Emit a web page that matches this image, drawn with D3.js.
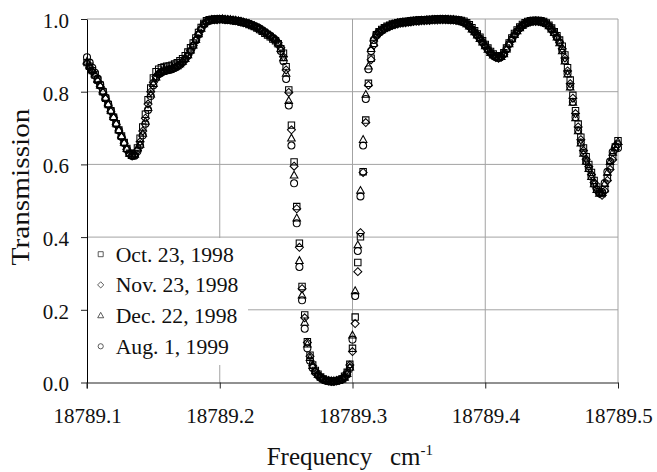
<!DOCTYPE html>
<html>
<head>
<meta charset="utf-8">
<script src="https://cdn.jsdelivr.net/npm/d3@7"></script>
<style>
  html, body { margin: 0; padding: 0; background: #fff; }
  svg { display: block; }
  svg text { font-family: "Liberation Serif", "Times New Roman", serif !important; fill: #111; }
</style>
</head>
<body>
<svg id="chart" width="657" height="472"></svg>
<script>
// Scan grid: every scan starts at the same frequency and uses the same step (cm^-1)
const sampleStart = 18789.1;
const sampleStep = 0.002;

const xTicks = [18789.1, 18789.2, 18789.3, 18789.4, 18789.5];
const yTicks = [0.0, 0.2, 0.4, 0.6, 0.8, 1.0];

const seriesNames = ["Oct. 23, 1998", "Nov. 23, 1998", "Dec. 22, 1998", "Aug. 1, 1999"];
const seriesShapes = ["square", "diamond", "triangle", "circle"];

// Transmission per scan, one value per grid point (201 points)
const oct23_1998 = [
  .880,.870,.858,.846,.832,.818,.800,.782,.765,.748,
  .730,.712,.695,.678,.660,.644,.631,.625,.630,.645,
  .672,.703,.738,.778,.810,.838,.855,.862,.866,.868,
  .870,.871,.873,.876,.880,.885,.891,.899,.909,.921,
  .934,.948,.963,.977,.988,.995,.998,.999,1.000,1.000,
  1.000,.999,.999,.998,.997,.996,.995,.994,.992,.990,
  .988,.985,.982,.979,.975,.971,.966,.961,.956,.951,
  .945,.940,.932,.918,.906,.869,.805,.708,.607,.484,
  .383,.264,.186,.112,.075,.048,.033,.023,.015,.010,
  .006,.005,.003,.004,.005,.006,.010,.017,.028,.050,
  .094,.180,.330,.401,.580,.722,.823,.892,.933,.957,
  .965,.971,.976,.980,.983,.986,.988,.990,.991,.992,
  .993,.994,.995,.996,.996,.997,.997,.998,.998,.999,
  .999,.999,1.000,1.000,1.000,1.000,.999,.999,.999,.998,
  .997,.996,.994,.990,.984,.976,.968,.959,.950,.940,
  .930,.920,.911,.904,.899,.897,.899,.907,.920,.934,
  .948,.960,.970,.978,.985,.990,.993,.995,.996,.996,
  .996,.995,.993,.989,.983,.975,.965,.954,.942,.925,
  .901,.866,.832,.790,.748,.711,.675,.645,.621,.600,
  .578,.556,.538,.525,.520,.532,.563,.594,.621,.648,
  .665
];

const nov23_1998 = [
  .878,.866,.855,.843,.829,.814,.797,.780,.763,.745,
  .728,.710,.692,.675,.658,.641,.629,.623,.626,.638,
  .662,.692,.727,.766,.800,.826,.842,.850,.854,.857,
  .859,.861,.863,.866,.870,.875,.882,.890,.900,.913,
  .927,.942,.958,.973,.985,.992,.996,.997,.998,.998,
  .999,.999,.998,.998,.997,.996,.995,.994,.992,.990,
  .988,.986,.983,.980,.977,.973,.968,.963,.959,.954,
  .948,.943,.935,.921,.896,.860,.798,.695,.595,.478,
  .372,.258,.178,.110,.072,.046,.032,.022,.015,.009,
  .006,.004,.003,.003,.004,.006,.010,.016,.028,.048,
  .085,.162,.305,.412,.578,.715,.818,.888,.928,.952,
  .961,.967,.972,.976,.979,.982,.984,.986,.988,.989,
  .990,.991,.992,.993,.994,.994,.995,.995,.996,.996,
  .997,.997,.997,.998,.998,.998,.998,.997,.997,.996,
  .995,.993,.990,.985,.979,.971,.963,.954,.945,.935,
  .925,.915,.906,.899,.894,.892,.895,.903,.915,.929,
  .943,.955,.966,.974,.981,.986,.990,.992,.993,.993,
  .993,.992,.990,.986,.980,.970,.960,.949,.936,.918,
  .893,.857,.822,.782,.740,.703,.668,.638,.614,.594,
  .572,.550,.533,.520,.515,.527,.556,.586,.613,.640,
  .655
];

const dec22_1998 = [
  .883,.871,.860,.848,.833,.818,.801,.784,.766,.748,
  .731,.713,.695,.678,.660,.643,.630,.624,.627,.645,
  .655,.685,.718,.756,.793,.822,.840,.850,.855,.858,
  .860,.862,.864,.867,.871,.876,.883,.891,.901,.914,
  .928,.943,.959,.974,.986,.993,.996,.998,.998,.999,
  .999,1.000,.999,.998,.998,.997,.996,.995,.993,.991,
  .989,.987,.984,.981,.978,.974,.969,.965,.960,.955,
  .950,.944,.934,.918,.893,.850,.775,.672,.570,.452,
  .335,.240,.165,.105,.068,.046,.032,.022,.015,.010,
  .006,.005,.004,.004,.005,.006,.009,.014,.024,.042,
  .130,.252,.378,.528,.668,.792,.870,.918,.947,.960,
  .965,.970,.975,.979,.982,.985,.987,.989,.990,.991,
  .990,.992,.993,.994,.995,.995,.996,.996,.997,.997,
  .998,.998,.998,.999,.999,.999,.999,.998,.998,.997,
  .996,.994,.991,.986,.980,.972,.964,.955,.946,.936,
  .926,.916,.907,.900,.896,.894,.896,.904,.917,.931,
  .945,.957,.967,.975,.982,.987,.991,.993,.994,.994,
  .994,.993,.991,.987,.981,.972,.962,.950,.934,.912,
  .884,.848,.812,.770,.728,.692,.658,.630,.608,.588,
  .566,.546,.530,.520,.522,.547,.578,.607,.633,.654,
  .662
];

const aug01_1999 = [
  .895,.880,.866,.852,.836,.820,.802,.784,.766,.748,
  .730,.712,.694,.676,.659,.642,.629,.623,.624,.636,
  .652,.680,.712,.750,.788,.818,.838,.848,.853,.856,
  .858,.860,.862,.865,.869,.874,.881,.889,.899,.912,
  .926,.941,.957,.972,.985,.992,.996,.998,.998,.999,
  .999,.999,.998,.998,.997,.996,.995,.994,.993,.991,
  .989,.987,.984,.981,.978,.974,.969,.964,.959,.954,
  .948,.942,.932,.912,.884,.835,.762,.652,.548,.438,
  .318,.226,.148,.094,.060,.040,.028,.020,.013,.008,
  .005,.004,.003,.003,.004,.006,.009,.013,.022,.040,
  .118,.238,.362,.512,.652,.780,.862,.912,.942,.957,
  .963,.969,.974,.978,.981,.984,.986,.988,.990,.991,
  .992,.993,.994,.995,.995,.996,.997,.997,.998,.998,
  .998,.999,.999,.999,.999,.999,.998,.998,.998,.997,
  .996,.993,.991,.987,.980,.972,.964,.955,.946,.936,
  .926,.916,.907,.900,.895,.893,.896,.904,.917,.931,
  .944,.956,.966,.975,.982,.987,.991,.993,.994,.995,
  .994,.993,.991,.987,.981,.972,.962,.950,.936,.914,
  .886,.850,.814,.772,.730,.694,.660,.632,.609,.589,
  .567,.546,.531,.521,.524,.549,.580,.608,.634,.648,
  .645
];

const seriesValues = [oct23_1998, nov23_1998, dec22_1998, aug01_1999];

// ---------------------------------------------------------------------------
const serif = '"Liberation Serif", "Times New Roman", serif';
const svg = d3.select("#chart");
const plot = { left: 87, right: 618, top: 19, bottom: 382.5 };

const x = d3.scaleLinear().domain([18789.1, 18789.5]).range([plot.left, plot.right]);
const y = d3.scaleLinear().domain([0, 1]).range([plot.bottom, plot.top]);

const gridColor = "#a3a3a3";
const axisColor = "#222";

// grid
const grid = svg.append("g");
grid.selectAll("line.h").data(yTicks.filter(v => v > 0)).join("line")
  .attr("x1", plot.left).attr("x2", plot.right)
  .attr("y1", d => y(d)).attr("y2", d => y(d))
  .attr("stroke", gridColor).attr("stroke-width", 1);
grid.selectAll("line.v").data(xTicks.slice(1)).join("line")
  .attr("x1", d => x(d)).attr("x2", d => x(d))
  .attr("y1", plot.top).attr("y2", plot.bottom)
  .attr("stroke", gridColor).attr("stroke-width", 1);

// legend backdrop hides the grid behind it
const legendBox = { x: 88, y: 238, w: 160, h: 127 };
svg.append("rect")
  .attr("x", legendBox.x).attr("y", legendBox.y)
  .attr("width", legendBox.w).attr("height", legendBox.h)
  .attr("fill", "#fff");

// axes
const xAxis = d3.axisBottom(x).tickValues(xTicks).tickSize(6).tickSizeOuter(0)
  .tickPadding(20).tickFormat(d3.format(".1f"));
const gx = svg.append("g").attr("transform", `translate(0,${plot.bottom})`).call(xAxis)
  .attr("font-family", serif).attr("font-size", 21);
gx.select(".domain").attr("stroke", axisColor);
gx.selectAll(".tick line").attr("stroke", axisColor);
gx.selectAll(".tick text").style("font-family", serif).style("font-size", "21px").attr("fill", "#111");

const yAxis = d3.axisLeft(y).tickValues(yTicks).tickSize(6).tickSizeOuter(0)
  .tickPadding(12).tickFormat(d3.format(".1f"));
const gy = svg.append("g").attr("transform", `translate(${plot.left},0)`).call(yAxis)
  .attr("font-family", serif).attr("font-size", 21);
gy.select(".domain").attr("stroke", "#000");
gy.selectAll(".tick line").attr("stroke", axisColor);
gy.selectAll(".tick text").attr("dy", "0.4em")
  .style("font-family", serif).style("font-size", "21px").attr("fill", "#111");

// left axis extends down past the baseline like a tick
svg.append("line")
  .attr("x1", plot.left).attr("x2", plot.left)
  .attr("y1", plot.bottom).attr("y2", plot.bottom + 6)
  .attr("stroke", axisColor);

// marker shapes, s = nominal width in px
const shapePath = {
  square: s => `M${-s / 2},${-s / 2}h${s}v${s}h${-s}Z`,
  diamond: s => `M0,${-s / 2}L${s / 2},0L0,${s / 2}L${-s / 2},0Z`,
  triangle: s => { const h = s * 0.9; return `M0,${-h * 0.6}L${s / 2},${h * 0.4}L${-s / 2},${h * 0.4}Z`; },
  circle: s => { const r = s / 2; return `M${r},0A${r},${r} 0 1,1 ${-r},0A${r},${r} 0 1,1 ${r},0Z`; }
};
const plotSize = { square: 6.4, diamond: 8, triangle: 7.6, circle: 7 };
const legendSize = { square: 5, diamond: 6.2, triangle: 6, circle: 5.2 };

// data points
seriesValues.forEach((vals, k) => {
  const shape = seriesShapes[k];
  const pts = vals.map((v, i) => ({ f: sampleStart + i * sampleStep, v }));
  svg.append("g")
    .selectAll("path").data(pts).join("path")
    .attr("transform", d => `translate(${x(d.f)},${y(d.v)})`)
    .attr("d", shapePath[shape](plotSize[shape]))
    .attr("fill", "none")
    .attr("stroke", "#000")
    .attr("stroke-width", 1.05);
});

// legend entries
const legend = svg.append("g");
const rowY0 = 261.7, rowStep = 30.7;
seriesNames.forEach((name, k) => {
  const by = rowY0 + k * rowStep;
  const shape = seriesShapes[k];
  legend.append("path")
    .attr("transform", `translate(100.7,${by - 7.5})`)
    .attr("d", shapePath[shape](legendSize[shape]))
    .attr("fill", "none").attr("stroke", "#333").attr("stroke-width", 0.8);
  legend.append("text")
    .attr("x", 115.7).attr("y", by)
    .style("font-size", "21.7px")
    .text(name);
});

// axis titles
svg.append("text")
  .attr("transform", "translate(28.5,187) rotate(-90)")
  .attr("text-anchor", "middle")
  .style("font-size", "25px")
  .attr("textLength", 157)
  .attr("lengthAdjust", "spacingAndGlyphs")
  .text("Transmission");

const xt = svg.append("text").attr("y", 465).style("font-size", "25px");
xt.append("tspan").attr("x", 266.7).text("Frequency");
xt.append("tspan").attr("x", 390).text("cm");
xt.append("tspan").style("font-size", "15px").attr("dy", -10).text("-1");
</script>
</body>
</html>
